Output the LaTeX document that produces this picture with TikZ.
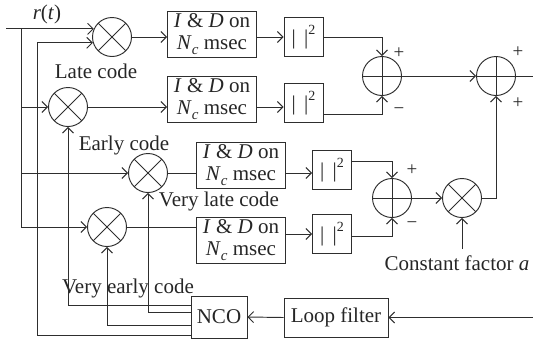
\documentclass[tikz,border=0pt]{standalone}
\usepackage{fontspec}
\setmainfont{Liberation Serif}
\usetikzlibrary{arrows.meta,calc}
\newcommand{\idtext}{\textit{I} \& \textit{D} on\\\textit{N}\raisebox{-0.22em}{\fontsize{15}{15}\selectfont\textit{c}} msec}
\newcommand{\sqtext}{|\hspace{0.4em}|\raisebox{0.45em}{\fontsize{14}{14}\selectfont 2}}
\begin{document}
\begin{tikzpicture}[x=1pt,y=-1pt, line width=0.95pt, color=black!82,
  every node/.style={font=\fontsize{21}{22.5}\selectfont, text=black!85},
  arr/.style={-{Straight Barb[length=5.5pt,width=11pt]}},
  mix/.style={circle,draw,minimum size=39pt,inner sep=0pt,
    path picture={\draw (path picture bounding box.north west)--(path picture bounding box.south east)
      (path picture bounding box.north east)--(path picture bounding box.south west);}},
  sum/.style={circle,draw,minimum size=39pt,inner sep=0pt,
    path picture={\draw (path picture bounding box.north)--(path picture bounding box.south)
      (path picture bounding box.east)--(path picture bounding box.west);}},
  idbox/.style={draw,minimum width=89pt,minimum height=46pt,inner sep=0pt,align=center},
  sqbox/.style={draw,minimum width=39pt,minimum height=39pt,inner sep=0pt},
  lbl/.style={inner sep=0pt},
  sgn/.style={inner sep=0pt,font=\fontsize{19}{20}\selectfont}]
\useasboundingbox (0,0) rectangle (533,341);

% mixers and summers
\node[mix] (M1) at (112,37) {};
\node[mix] (M2) at (68,107) {};
\node[mix] (M3) at (148,173) {};
\node[mix] (M4) at (107,227) {};
\node[mix] (M5) at (462,198) {};
\node[sum] (S1) at (382,76) {};
\node[sum] (S2) at (496,76) {};
\node[sum] (S3) at (392,198) {};

% boxes
\node[idbox] (ID1) at (212,34) {\idtext};
\node[idbox] (ID2) at (212,99) {\idtext};
\node[idbox] (ID3) at (241,165) {\idtext};
\node[idbox] (ID4) at (241,240) {\idtext};
\node[sqbox] (Q1) at (303.5,37) {\sqtext};
\node[sqbox] (Q2) at (303.5,103) {\sqtext};
\node[sqbox] (Q3) at (332,170) {\sqtext};
\node[sqbox] (Q4) at (332,234) {\sqtext};
\node[draw,minimum width=56pt,minimum height=42pt,inner sep=0pt] (NCO) at (219,317) {NCO};
\node[draw,minimum width=104pt,minimum height=39pt,inner sep=0pt] (LF) at (336,317.5) {Loop filter};

% labels
\node[lbl] (rt) at (47,14) {\textit{r}(\textit{t})};
\node[lbl] (late) at (96,71) {Late code};
\node[lbl] (early) at (124,145) {Early code};
\node[lbl] (vlate) at (219,201) {Very late code};
\node[lbl] (vearly) at (128,288) {Very early code};
\node[lbl] (cfl) at (457,263) {Constant factor \textit{a}};
\node[sgn] at (399,53) {+};
\node[sgn] at (399,111) {−};
\node[sgn] at (518,52) {+};
\node[sgn] at (518,103) {+};
\node[sgn] at (412,170) {+};
\node[sgn] at (412,225) {−};

% helper coordinates
\coordinate (xr) at (6,0);
\coordinate (xb) at (21,0);
\coordinate (xl) at (37,0);
\coordinate (out) at (533,76);
\coordinate (lin) at (533,317.5);
\coordinate (cf) at (462,249);
\coordinate (nA) at ($(NCO.north west)!0.238!(NCO.south west)$);
\coordinate (nB) at ($(NCO.north west)!0.405!(NCO.south west)$);
\coordinate (nC) at ($(NCO.north west)!0.69!(NCO.south west)$);
\coordinate (nD) at ($(NCO.north west)!0.93!(NCO.south west)$);

% input bus
\draw[arr] (M1.156 -| xr) -- (M1.156);
\draw (M1.156 -| xb) -- (M4.west -| xb);
\draw[arr] (M2.west -| xb) -- (M2.west);
\draw[arr] (M3.west -| xb) -- (M3.west);
\draw[arr] (M4.west -| xb) -- (M4.west);

% mixers to I&D
\draw[arr] (M1.east) -- (ID1.west |- M1.east);
\draw[arr] (M2.east) -- (ID2.west |- M2.east);
\draw (M3.east) -- (ID3.west |- M3.east);
\draw (M4.east) -- (ID4.west |- M4.east);

% I&D to squarers
\draw[arr] (ID1.east |- Q1.west) -- (Q1.west);
\draw[arr] (ID2.east |- M2.east) -- (Q2.west |- M2.east);
\draw[arr] (ID3.east |- M3.east) -- (Q3.west |- M3.east);
\draw[arr] (ID4.east |- Q4.west) -- (Q4.west);

% squarers to summers
\draw[arr] (Q1.east) -| (S1.north);
\draw[arr] ($(Q2.east)+(0,11)$) -| (S1.south);
\draw[arr] ($(Q3.east)+(0,-9)$) -| (S3.north);
\draw[arr] ($(Q4.east)+(0,2)$) -| (S3.south);

% right side
\draw[arr] (S1.east) -- (S2.west);
\draw[arr] (S3.east) -- (M5.west);
\draw[arr] (M5.east) -| (S2.south);
\draw (S2.east) -- (out);
\draw[arr] (cf) -- (M5.south);
\draw[arr] (lin) -- (LF.east);
\draw[arr] (LF.west) -- (NCO.east);

% NCO outputs
\draw[arr] (nA) -| (M2.south);
\draw[arr] (nB) -| (M3.south);
\draw[arr] (nC) -| (M4.south);
\draw[arr] (nD) -| (M1.197 -| xl) -- (M1.197);
\end{tikzpicture}
\end{document}
